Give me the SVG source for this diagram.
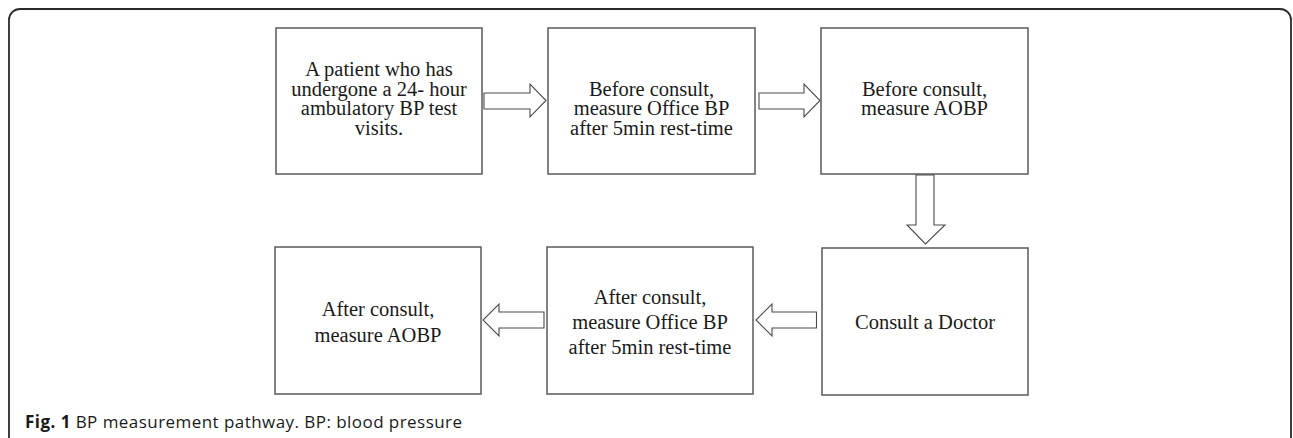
<svg xmlns="http://www.w3.org/2000/svg" width="1293" height="438" viewBox="0 0 1293 438">
  <style>
    .box { fill: #ffffff; stroke: #5a5a5a; stroke-width: 1.5; }
    .lbl { font-family: "Liberation Serif", "Times New Roman", serif; font-size: 20.5px; fill: #1a1a1a; text-anchor: middle; }
    .arrow { fill: #ffffff; stroke: #4a4a4a; stroke-width: 1.1; stroke-linejoin: miter; }
    .frame { fill: none; stroke: #2a2a2a; stroke-width: 1.8; }
    .cap { font-family: "Open Sans", "Noto Sans", sans-serif; font-size: 17px; fill: #1a1a1a; }
  </style>
  <rect width="1293" height="438" fill="#ffffff"/>
  <rect class="frame" x="9" y="9" width="1282" height="460" rx="11" ry="11"/>

  <g id="n1">
    <rect class="box" x="276" y="28" width="206" height="146"/>
    <text class="lbl" x="379" y="76">A patient who has</text>
    <text class="lbl" x="379" y="95.5">undergone a 24- hour</text>
    <text class="lbl" x="379" y="115">ambulatory BP test</text>
    <text class="lbl" x="379" y="134.5">visits.</text>
  </g>
  <g id="n2">
    <rect class="box" x="548" y="28" width="207" height="146"/>
    <text class="lbl" x="651.5" y="95.5">Before consult,</text>
    <text class="lbl" x="651.5" y="115">measure Office BP</text>
    <text class="lbl" x="651.5" y="134.5">after 5min rest-time</text>
  </g>
  <g id="n3">
    <rect class="box" x="821" y="28" width="207" height="146"/>
    <text class="lbl" x="924.5" y="95.5">Before consult,</text>
    <text class="lbl" x="924.5" y="115">measure AOBP</text>
  </g>
  <g id="n4">
    <rect class="box" x="822" y="248" width="206" height="147"/>
    <text class="lbl" x="925" y="329">Consult a Doctor</text>
  </g>
  <g id="n5">
    <rect class="box" x="547" y="247" width="206" height="147"/>
    <text class="lbl" x="650" y="303.5">After consult,</text>
    <text class="lbl" x="650" y="328.7">measure Office BP</text>
    <text class="lbl" x="650" y="353.7">after 5min rest-time</text>
  </g>
  <g id="n6">
    <rect class="box" x="275" y="247" width="206" height="147"/>
    <text class="lbl" x="378" y="316">After consult,</text>
    <text class="lbl" x="378" y="341.7">measure AOBP</text>
  </g>

  <g id="connectors">
    <polygon class="arrow" points="484,93 530,93 530,84 546,100.5 530,117 530,109 484,109"/>
    <polygon class="arrow" points="759,93 804,93 804,84 820,100.5 804,117 804,109 759,109"/>
    <polygon class="arrow" points="916,175 934,175 934,225 945,225 925.5,244 907,225 916,225"/>
    <polygon class="arrow" points="816.5,312 772,312 772,304 756,320 772,336 772,328 816.5,328"/>
    <polygon class="arrow" points="544,312 499,312 499,304 483,320 499,336 499,328 544,328"/>
  </g>

  <text class="cap" x="25" y="428" textLength="437" lengthAdjust="spacing"><tspan font-weight="bold">Fig. 1</tspan> BP measurement pathway. BP: blood pressure</text>
</svg>
